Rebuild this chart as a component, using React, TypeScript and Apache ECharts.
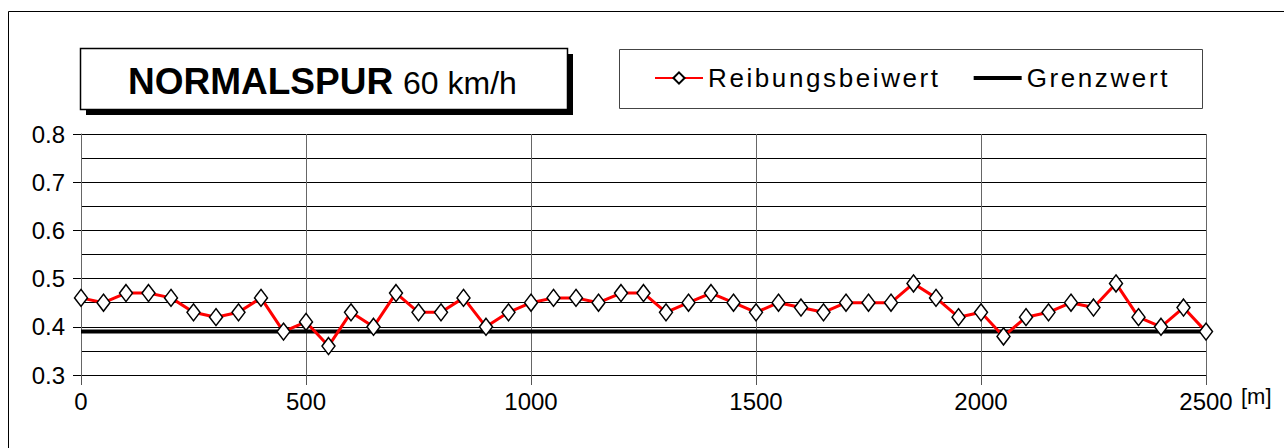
import React, { useEffect, useRef } from "react";
import * as echarts from "echarts";

// Distance along the track [m]
const distances = [
  0, 50, 100, 150, 200, 250, 300, 350, 400, 450, 500, 550, 600, 650, 700, 750, 800, 850, 900, 950,
  1000, 1050, 1100, 1150, 1200, 1250, 1300, 1350, 1400, 1450, 1500, 1550, 1600, 1650, 1700, 1750,
  1800, 1850, 1900, 1950, 2000, 2050, 2100, 2150, 2200, 2250, 2300, 2350, 2400, 2450, 2500,
];

// Reibungsbeiwert (friction coefficient)
const friction = [
  0.46, 0.45, 0.47, 0.47, 0.46, 0.43, 0.42, 0.43, 0.46, 0.39, 0.41, 0.36, 0.43, 0.4, 0.47, 0.43,
  0.43, 0.46, 0.4, 0.43, 0.45, 0.46, 0.46, 0.45, 0.47, 0.47, 0.43, 0.45, 0.47, 0.45, 0.43, 0.45,
  0.44, 0.43, 0.45, 0.45, 0.45, 0.49, 0.46, 0.42, 0.43, 0.38, 0.42, 0.43, 0.45, 0.44, 0.49, 0.42,
  0.4, 0.44, 0.39,
];

// Grenzwert (limit)
const limitValue = 0.39;

const seriesNames = ["Reibungsbeiwert", "Grenzwert"];
const titleMain = "NORMALSPUR";
const titleSub = "60 km/h";
const xUnit = "[m]";

const yMin = 0.3;
const yMax = 0.8;
const yStep = 0.1;
const xMin = 0;
const xMax = 2500;
const xStep = 500;

const FONT = "'Liberation Sans', Arial, sans-serif";

export default function App() {
  const ref = useRef<HTMLDivElement>(null);

  useEffect(() => {
    const el = ref.current;
    if (!el) return;
    const chart = echarts.init(el, undefined, { renderer: "svg" });

    const frictionData = distances.map((d, i) => [d, friction[i]]);
    const limitData = distances.map((d) => [d, limitValue]);

    const option: any = {
      animation: false,
      backgroundColor: "#fff",
      grid: { left: 81, top: 134, width: 1125, height: 241, containLabel: false },
      xAxis: {
        type: "value",
        min: xMin,
        max: xMax,
        interval: xStep,
        axisLine: { show: true, onZero: false, lineStyle: { color: "#000", width: 1 } },
        axisTick: { show: true, length: 10, lineStyle: { color: "#555", width: 1 } },
        axisLabel: {
          color: "#000",
          fontFamily: FONT,
          fontSize: 24,
          margin: 14,
          formatter: (v: number) => String(v),
        },
        splitLine: { show: true, lineStyle: { color: "#666", width: 1 } },
      },
      yAxis: {
        type: "value",
        min: yMin,
        max: yMax,
        interval: yStep,
        axisLine: { show: true, lineStyle: { color: "#666", width: 1 } },
        axisTick: { show: true, length: 8, lineStyle: { color: "#000", width: 1 } },
        axisLabel: {
          color: "#000",
          fontFamily: FONT,
          fontSize: 24,
          margin: 16,
          formatter: (v: number) => v.toFixed(1),
        },
        splitLine: { show: true, lineStyle: { color: "#000", width: 1 } },
        minorTick: { show: false, splitNumber: 2 },
        minorSplitLine: { show: true, lineStyle: { color: "#000", width: 1 } },
      },
      legend: {
        data: [
          { name: seriesNames[0] },
          { name: seriesNames[1], icon: "path://M0,0 L48,0 L48,4 L0,4 Z", itemStyle: { color: "#000" } },
        ],
        left: 654,
        top: 65,
        padding: 0,
        itemWidth: 48,
        itemHeight: 14,
        itemGap: 72,
        selectedMode: false,
        textStyle: { color: "#000", fontFamily: FONT, fontSize: 26 },
      },
      graphic: [
        {
          type: "rect",
          silent: true,
          z: -10,
          shape: { x: 8.5, y: 11.5, width: 1400, height: 600 },
          style: { fill: "none", stroke: "#000", lineWidth: 1 },
        },
        {
          type: "rect",
          silent: true,
          shape: { x: 86, y: 54, width: 487, height: 61 },
          style: { fill: "#000" },
        },
        {
          type: "rect",
          silent: true,
          shape: { x: 80.5, y: 48.5, width: 487, height: 61 },
          style: { fill: "#fff", stroke: "#000", lineWidth: 1.5 },
        },
        {
          type: "text",
          silent: true,
          style: {
            x: 128,
            y: 81,
            text: titleMain,
            fontFamily: FONT,
            fontWeight: "bold",
            fontSize: 37,
            fill: "#000",
            verticalAlign: "middle",
          },
        },
        {
          type: "text",
          silent: true,
          style: {
            x: 403,
            y: 83,
            text: titleSub,
            fontFamily: FONT,
            fontSize: 32,
            fill: "#000",
            verticalAlign: "middle",
          },
        },
        {
          type: "rect",
          silent: true,
          shape: { x: 619.5, y: 49.5, width: 583, height: 59 },
          style: { fill: "#fff", stroke: "#444", lineWidth: 1 },
        },
        {
          type: "text",
          silent: true,
          style: {
            x: 1241,
            y: 396,
            text: xUnit,
            fontFamily: FONT,
            fontSize: 22,
            fill: "#000",
            verticalAlign: "middle",
          },
        },
      ],
      series: [
        {
          name: seriesNames[1],
          type: "line",
          data: limitData,
          symbol: "none",
          z: 2,
          lineStyle: { color: "#000", width: 4 },
          itemStyle: { color: "#000" },
        },
        {
          name: seriesNames[0],
          type: "line",
          data: frictionData,
          symbol: "diamond",
          symbolSize: [13, 17],
          z: 3,
          lineStyle: { color: "#ff0000", width: 3 },
          itemStyle: { color: "#fff", borderColor: "#000", borderWidth: 1.5 },
        },
      ],
    };

    const applySpacing = () => {
      el.querySelectorAll("text").forEach((t) => {
        const s = (t.textContent || "").trim();
        if (s === seriesNames[0] || s === seriesNames[1]) {
          t.setAttribute("letter-spacing", "2.6");
        }
      });
    };

    chart.on("finished", applySpacing);
    chart.setOption(option);
    applySpacing();

    return () => {
      chart.dispose();
    };
  }, []);

  return (
    <div
      ref={ref}
      style={{ position: "fixed", left: 0, top: 0, width: 1284, height: 448, background: "#fff" }}
    />
  );
}
